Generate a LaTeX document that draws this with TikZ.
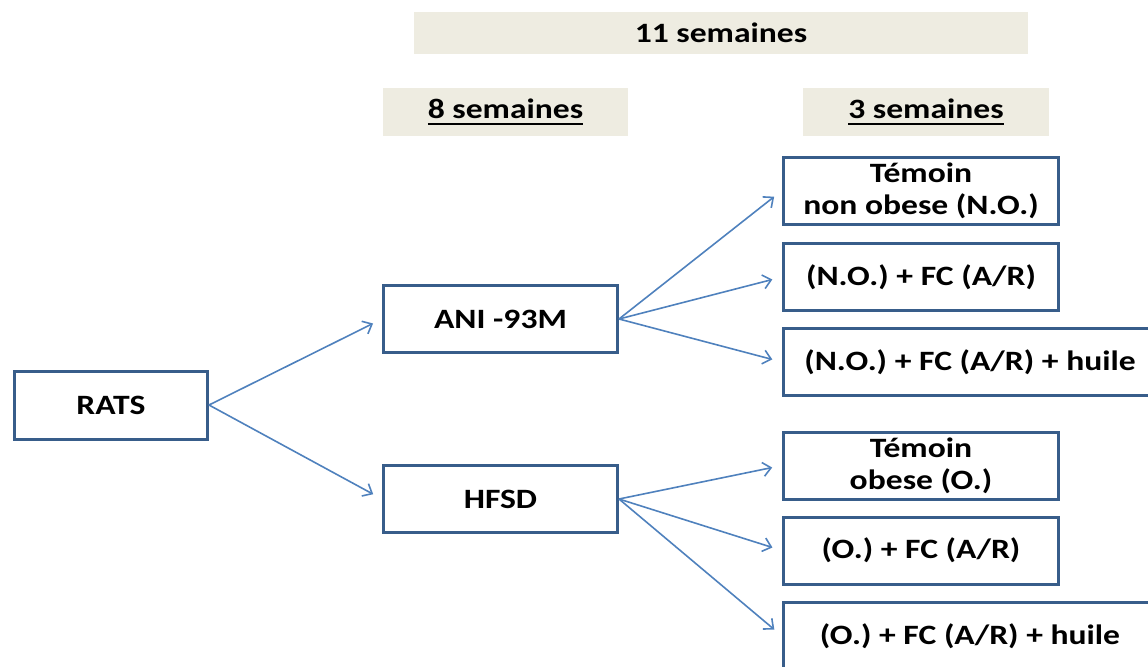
\documentclass[tikz,border=0pt]{standalone}
\usepackage{fontspec}
\setmainfont{Carlito}[FakeStretch=1.2]
\usetikzlibrary{arrows.meta}

\definecolor{boxblue}{RGB}{56,93,138}
\definecolor{flowblue}{RGB}{79,129,189}
\definecolor{headbeige}{RGB}{238,236,225}

\newsavebox{\ulbox}
\newcommand{\thickul}[1]{\sbox{\ulbox}{#1}\rlap{\usebox{\ulbox}}\rule[-3.2pt]{\wd\ulbox}{1.2pt}}

\begin{document}
\begin{tikzpicture}[x=0.5pt,y=-0.5pt,
  every node/.style={font=\fontsize{14}{16}\selectfont\bfseries, align=center, inner sep=0pt},
  ratsbox/.style={draw=boxblue, line width=1.5pt, minimum width=96.5pt, minimum height=34pt},
  dietbox/.style={draw=boxblue, line width=1.5pt, minimum width=117pt, minimum height=33.5pt},
  groupbox/.style={draw=boxblue, line width=1.5pt, minimum width=137.5pt, minimum height=33.5pt},
  widebox/.style={groupbox, minimum width=186.5pt},
  headbox/.style={fill=headbeige, minimum height=24pt},
  flow/.style={draw=flowblue, line width=0.8pt, -{Straight Barb[length=4pt,width=7pt]}, shorten >=5pt}]
  \useasboundingbox (0,0) rectangle (1148,666);
  \clip (0,0) rectangle (1148,666);

  % durations
  \node[headbox, minimum width=307pt, minimum height=21pt] (h11) at (721,33) {11 semaines};
  \node[headbox, minimum width=122.5pt] (h8) at (505.5,112) {\thickul{8 semaines}};
  \node[headbox, minimum width=123pt] (h3) at (926,112) {\thickul{3 semaines}};

  % rats and diets
  \node[ratsbox] (rats) at (111,405) {RATS};
  \node[dietbox] (ani) at (500.5,319) {ANI -93M};
  \node[dietbox] (hfsd) at (500.5,499) {HFSD};

  % groups
  \node[groupbox] (no) at (921,190.5) {Témoin\\non obese (N.O.)};
  \node[groupbox] (nofc) at (921,277) {(N.O.) + FC (A/R)};
  \node[widebox] (nohu) at (970,362) {(N.O.) + FC (A/R) + huile};
  \node[groupbox] (ob) at (921,465.5) {Témoin\\obese (O.)};
  \node[groupbox] (obfc) at (921,550.5) {(O.) + FC (A/R)};
  \node[widebox] (obhu) at (970,636) {(O.) + FC (A/R) + huile};

  \draw[flow] (rats.east) -- (ani.west);
  \draw[flow] (rats.east) -- (hfsd.west);
  \foreach \g in {no,nofc,nohu}
    \draw[flow] (ani.east) -- (\g.west);
  \foreach \g in {ob,obfc,obhu}
    \draw[flow] (hfsd.east) -- (\g.west);
\end{tikzpicture}
\end{document}
